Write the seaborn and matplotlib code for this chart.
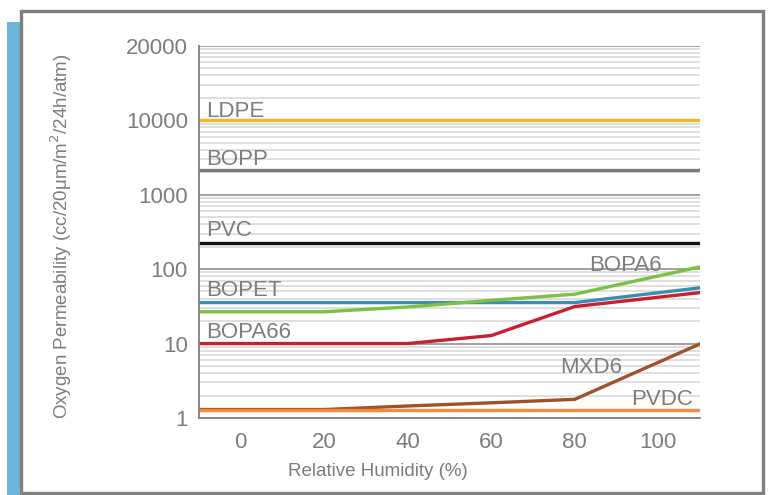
import matplotlib
matplotlib.use("Agg")
import matplotlib.pyplot as plt
from matplotlib.patches import Rectangle
from matplotlib.ticker import LogLocator, FixedLocator, NullFormatter
import seaborn as sns
import pandas as pd

# ---- data ----
humidity = [-10, 0, 20, 40, 60, 80, 110]
ldpe = [10000, 10000, 10000, 10000, 10000, 10000, 10000]
bopp = [2150, 2150, 2150, 2150, 2150, 2150, 2150]
pvc = [224, 224, 224, 224, 224, 224, 224]
bopet = [35.5, 35.5, 35.5, 35.5, 35.5, 35.5, 56]
bopa6 = [26.7, 26.7, 26.7, 31, 38, 46, 107]
bopa66 = [10, 10, 10, 10, 12.8, 31.4, 48.3]
mxd6 = [1.3, 1.3, 1.3, 1.45, 1.6, 1.78, 9.9]
pvdc = [1.3, 1.3, 1.3, 1.3, 1.3, 1.3, 1.3]

series_names = ["LDPE", "BOPP", "PVC", "BOPET", "BOPA6", "BOPA66", "MXD6", "PVDC"]
series_values = [ldpe, bopp, pvc, bopet, bopa6, bopa66, mxd6, pvdc]
colors = ["#F6B623", "#7A7A7A", "#111111", "#3A8DB5", "#7CC142", "#C81F32", "#A0522D", "#F58A3C"]

y_ticks = [1, 10, 100, 1000, 10000, 100000]
y_tick_labels = ["1", "10", "100", "1000", "10000", "20000"]
x_ticks = [0, 20, 40, 60, 80, 100]

# series label anchors (text, x, y, ha)
labels = [("LDPE", -8.4, 11000, "left"), ("BOPP", -8.4, 2500, "left"),
          ("PVC", -8.4, 275, "left"), ("BOPET", -8.4, 43.5, "left"),
          ("BOPA66", -8.4, 11.7, "left"), ("BOPA6", 83.5, 94, "left"),
          ("MXD6", 76.5, 4.0, "left"), ("PVDC", 108.4, 1.49, "right")]

rows = []
for name, vals in zip(series_names, series_values):
    for x, v in zip(humidity, vals):
        rows.append({"Humidity": x, "Value": v, "Material": name})
df = pd.DataFrame(rows)

sns.set_style("white")
fam = ["Liberation Sans Narrow", "Liberation Sans", "DejaVu Sans"]
plt.rcParams["font.family"] = fam

W, H = 769, 495
fig = plt.figure(figsize=(W / 100, H / 100), dpi=100)

# decorative frame
fig.patches.append(Rectangle((7 / W, 0), 13 / W, (H - 22) / H, transform=fig.transFigure,
                             facecolor="#6DB5D6", edgecolor="none", zorder=0))
fig.patches.append(Rectangle((20.5 / W, 2 / H), (763 - 20.5) / W, (484 - 2) / H,
                             transform=fig.transFigure, facecolor="none",
                             edgecolor="#808080", linewidth=2.4, zorder=1))

ax = fig.add_axes([199 / W, 1 - 418 / H, (700 - 199) / W, (418 - 45.7) / H])

grey_text = "#7d7d7d"
ax.set_yscale("log")
ax.set_ylim(1, 100000)
ax.set_xlim(-10, 110)

ax.yaxis.set_major_locator(FixedLocator(y_ticks))
ax.set_yticklabels(y_tick_labels)
ax.yaxis.set_minor_locator(LogLocator(base=10, subs=range(2, 10), numticks=20))
ax.yaxis.set_minor_formatter(NullFormatter())
ax.set_xticks(x_ticks)

ax.grid(which="major", axis="y", color="#9a9a9a", linewidth=1.3, zorder=0)
ax.grid(which="minor", axis="y", color="#d9d9d9", linewidth=1.2, zorder=0)
ax.grid(False, axis="x")
ax.set_axisbelow(True)

sns.lineplot(data=df, x="Humidity", y="Value", hue="Material", hue_order=series_names,
             palette=dict(zip(series_names, colors)), linewidth=2.4, legend=False,
             ax=ax, estimator=None, sort=False)

for s in ["top", "right"]:
    ax.spines[s].set_visible(False)
for s in ["left", "bottom"]:
    ax.spines[s].set_color("#808080")
    ax.spines[s].set_linewidth(1.3)

ax.tick_params(axis="both", which="both", length=0, labelsize=16, labelcolor=grey_text)
ax.tick_params(axis="y", pad=8)
ax.tick_params(axis="x", pad=10)
ax.set_xlabel("")
ax.set_ylabel("")

for txt, x, y, ha in labels:
    ax.text(x, y, txt, fontsize=16, color=grey_text, ha=ha, va="baseline")

fig.text(378 / W, 1 - 472 / H, "Relative Humidity (%)", fontsize=13.5, color=grey_text,
         ha="center", va="center")
fig.text(61 / W, 1 - 236 / H, "Oxygen Permeability (cc/20μm/m$^2$/24h/atm)", fontsize=13.5,
         color=grey_text, ha="center", va="center", rotation=90)

fig.savefig("out.png", dpi=100)
